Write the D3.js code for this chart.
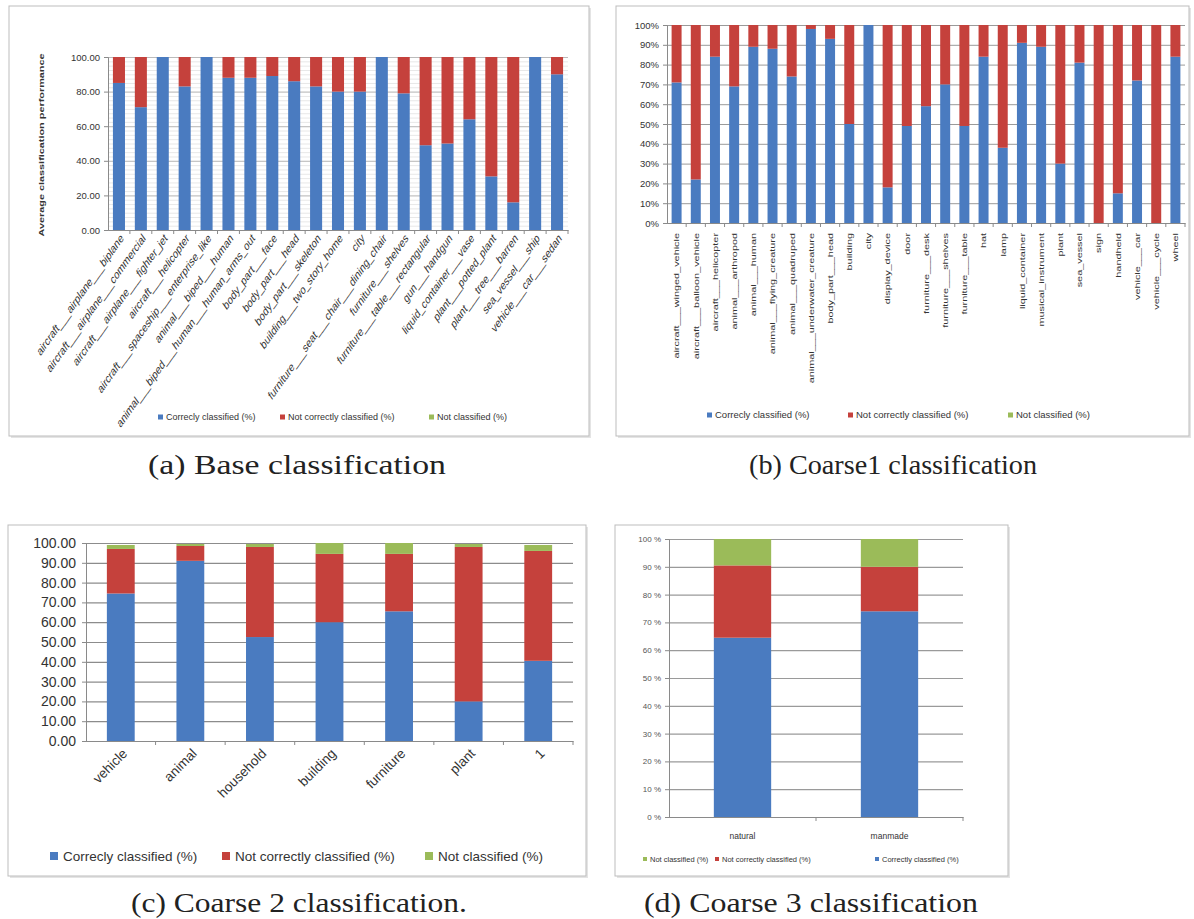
<!DOCTYPE html>
<html>
<head>
<meta charset="utf-8">
<script src="https://cdn.jsdelivr.net/npm/d3@7"></script>
<style>
  body { margin: 0; background: #fff; }
  svg text { font-family: "Liberation Sans", Arial, sans-serif; }
  .caption { font-family: "Liberation Serif", "DejaVu Serif", serif; }
</style>
</head>
<body>
<div id="fig"></div>
<script>
// (a) base classification
const baseLabels = [
  'aircraft___airplane___biplane', 'aircraft___airplane___commercial', 'aircraft___airplane___fighter_jet',
  'aircraft___helicopter', 'aircraft___spaceship___enterprise_like', 'animal___biped___human',
  'animal___biped___human___human_arms_out', 'body_part___face', 'body_part___head',
  'body_part___skeleton', 'building___two_story_home', 'city',
  'furniture___seat___chair___dining_chair', 'furniture___shelves', 'furniture___table___rectangular',
  'gun___handgun', 'liquid_container___vase', 'plant___potted_plant',
  'plant___tree___barren', 'sea_vessel___ship', 'vehicle___car___sedan'
];
const baseCorrect       = [85, 71, 100, 83, 100, 88, 88, 89, 86, 83, 80, 80, 100, 79, 49, 50, 64, 31, 16, 100, 90];
const baseNotCorrect    = [15, 29, 0, 17, 0, 12, 12, 11, 14, 17, 20, 20, 0, 21, 51, 50, 36, 69, 84, 0, 10];
const baseNotClassified = [0, 0, 0, 0, 0, 0, 0, 0, 0, 0, 0, 0, 0, 0, 0, 0, 0, 0, 0, 0, 0];
const baseTicks = [0, 20, 40, 60, 80, 100];

// (b) coarse 1 classification
const coarse1Labels = [
  'aircraft___winged_vehicle', 'aircraft___balloon_vehicle', 'aircraft___helicopter', 'animal___arthropod',
  'animal___human', 'animal___flying_creature', 'animal___quadruped', 'animal___underwater_creature',
  'body_part___head', 'building', 'city', 'display_device', 'door', 'furniture___desk',
  'furniture___shelves', 'furniture___table', 'hat', 'lamp', 'liquid_container', 'musical_instrument',
  'plant', 'sea_vessel', 'sign', 'handheld', 'vehicle___car', 'vehicle___cycle', 'wheel'
];
const coarse1Correct       = [71, 22, 84, 69, 89, 88, 74, 98, 93, 50, 100, 18, 49, 59, 70, 49, 84, 38, 91, 89, 30, 81, 0, 15, 72, 0, 84];
const coarse1NotCorrect    = [29, 78, 16, 31, 11, 12, 26, 2, 7, 50, 0, 82, 51, 41, 30, 51, 16, 62, 9, 11, 70, 19, 100, 85, 28, 100, 16];
const coarse1NotClassified = [0, 0, 0, 0, 0, 0, 0, 0, 0, 0, 0, 0, 0, 0, 0, 0, 0, 0, 0, 0, 0, 0, 0, 0, 0, 0, 0];
const coarse1Ticks = [0, 10, 20, 30, 40, 50, 60, 70, 80, 90, 100];

// (c) coarse 2 classification
const coarse2Labels = ['vehicle', 'animal', 'household', 'building', 'furniture', 'plant', '1'];
const coarse2Correct       = [74.5, 91, 52.5, 60, 65.5, 20, 40.5];
const coarse2NotCorrect    = [22.5, 7.5, 45.5, 34.5, 29, 78, 55.5];
const coarse2NotClassified = [2, 1, 1.5, 5.5, 5.5, 1.5, 3];
const coarse2Ticks = [0, 10, 20, 30, 40, 50, 60, 70, 80, 90, 100];

// (d) coarse 3 classification
const coarse3Labels = ['natural', 'manmade'];
const coarse3Correct       = [64.5, 74];
const coarse3NotCorrect    = [26, 16];
const coarse3NotClassified = [9.5, 10];
const coarse3Ticks = [0, 10, 20, 30, 40, 50, 60, 70, 80, 90, 100];

const seriesNames = ['Correcly classified (%)', 'Not correctly classified (%)', 'Not classified (%)'];
const seriesNamesD = ['Correctly classified (%)', 'Not correctly classified (%)', 'Not classified (%)'];
const colors = ['#4a7bc0', '#c5413c', '#9bbb59'];

const svg = d3.select('#fig').append('svg')
  .attr('width', 1194)
  .attr('height', 919);

function panel(cfg) {
  const g = svg.append('g');

  // frame with a soft shadow
  const [fx0, fy0, fx1, fy1] = cfg.frame;
  g.append('rect')
    .attr('x', fx0 + 2).attr('y', fy0 + 2)
    .attr('width', fx1 - fx0).attr('height', fy1 - fy0)
    .attr('fill', '#e4e4e4');
  g.append('rect')
    .attr('x', fx0).attr('y', fy0)
    .attr('width', fx1 - fx0).attr('height', fy1 - fy0)
    .attr('fill', '#fff').attr('stroke', '#bdbdbd');

  const x = d3.scaleBand()
    .domain(cfg.cats)
    .range(cfg.xr)
    .paddingInner(cfg.pad)
    .paddingOuter(cfg.pad / 2);
  const y = d3.scaleLinear().domain([0, 100]).range(cfg.yr);

  // gridlines
  cfg.grids.forEach(gr => {
    g.append('g')
      .attr('transform', `translate(${cfg.xr[0]},0)`)
      .call(d3.axisLeft(y).tickValues(gr.values).tickSize(-(cfg.xr[1] - cfg.xr[0])).tickFormat(''))
      .call(s => {
        s.select('.domain').remove();
        s.selectAll('line').attr('stroke', gr.color).attr('stroke-width', gr.width);
      });
  });

  // stacked bars
  const rows = cfg.cats.map((c, i) => ({ cat: c, s0: cfg.series[0][i], s1: cfg.series[1][i], s2: cfg.series[2][i] }));
  const stacked = d3.stack().keys(['s0', 's1', 's2'])(rows);
  g.append('g').selectAll('g')
    .data(stacked)
    .join('g')
      .attr('fill', (d, i) => colors[i])
    .selectAll('rect')
    .data(d => d)
    .join('rect')
      .attr('x', d => x(d.data.cat))
      .attr('y', d => y(d[1]))
      .attr('width', x.bandwidth())
      .attr('height', d => y(d[0]) - y(d[1]));

  // y axis
  const ya = g.append('g')
    .attr('transform', `translate(${cfg.xr[0]},0)`)
    .call(d3.axisLeft(y).tickValues(cfg.ticks).tickSize(4).tickPadding(cfg.tickPad).tickFormat(cfg.fmt));
  ya.attr('font-family', null).attr('font-size', cfg.tickFont);
  ya.select('.domain').attr('stroke', '#8a8a8a');
  ya.selectAll('line').attr('stroke', '#8a8a8a');
  ya.selectAll('text').attr('fill', cfg.tickColor || '#333');

  // x axis line and ticks between categories
  const xa = g.append('g')
    .attr('transform', `translate(0,${cfg.yr[0]})`)
    .call(d3.axisBottom(x).tickSize(0).tickFormat(''));
  xa.select('.domain').attr('stroke', '#8a8a8a');
  g.append('g').selectAll('line')
    .data(cfg.cats)
    .join('line')
      .attr('x1', d => x(d) + x.bandwidth() + x.step() * cfg.pad / 2)
      .attr('x2', d => x(d) + x.bandwidth() + x.step() * cfg.pad / 2)
      .attr('y1', cfg.yr[0])
      .attr('y2', cfg.yr[0] + 4)
      .attr('stroke', '#8a8a8a');

  // category labels
  g.append('g').selectAll('text')
    .data(cfg.cats)
    .join('text')
      .attr('transform', d => cfg.labelTransform(x(d) + x.bandwidth() / 2, cfg.yr[0]))
      .attr('text-anchor', cfg.labelAnchor)
      .attr('dy', cfg.labelDy)
      .attr('font-size', cfg.labelFont)
      .attr('fill', '#333')
      .text(d => d);

  // legend
  const lg = g.append('g');
  cfg.legend.order.forEach((si, k) => {
    const lx = cfg.legend.xs[k];
    const b = cfg.legend.box;
    lg.append('rect')
      .attr('x', lx).attr('y', cfg.legend.y - b / 2)
      .attr('width', b).attr('height', b)
      .attr('fill', colors[si]);
    lg.append('text')
      .attr('x', lx + b + cfg.legend.gap)
      .attr('y', cfg.legend.y)
      .attr('dy', '0.35em')
      .attr('font-size', cfg.legend.font)
      .attr('fill', '#333')
      .text(cfg.legend.names[si]);
  });

  return { g, x, y };
}

// (a)
const pa = panel({
  frame: [9, 6, 589, 436],
  cats: baseLabels,
  series: [baseCorrect, baseNotCorrect, baseNotClassified],
  xr: [108, 568], yr: [230, 57], pad: 0.45,
  grids: [
    { values: d3.range(0, 100.1, 2.5), color: '#d6d6d6', width: 0.6 },
    { values: baseTicks, color: '#b0b0b0', width: 0.8 }
  ],
  ticks: baseTicks, fmt: d3.format('.2f'), tickFont: 9.5, tickPad: 4,
  labelTransform: (cx, y0) => `translate(${cx + 3},${y0 + 6}) scale(1,1.4) rotate(-45)`,
  labelAnchor: 'end', labelDy: '0.35em', labelFont: 9,
  legend: { y: 417, xs: [158, 280, 429], order: [0, 1, 2], names: seriesNames, box: 5, gap: 3, font: 9 }
});
pa.g.append('text')
  .attr('transform', 'translate(44,145) scale(1,1.36) rotate(-90)')
  .attr('text-anchor', 'middle')
  .attr('font-size', 8)
  .attr('font-weight', 'bold')
  .attr('fill', '#333')
  .text('Average classification performance');

// (b)
panel({
  frame: [616, 6, 1189, 436],
  cats: coarse1Labels,
  series: [coarse1Correct, coarse1NotCorrect, coarse1NotClassified],
  xr: [667, 1185], yr: [223, 25], pad: 0.48,
  grids: [{ values: coarse1Ticks, color: '#9a9a9a', width: 1 }],
  ticks: coarse1Ticks, fmt: d => d + '%', tickFont: 9.5, tickPad: 4,
  labelTransform: (cx, y0) => `translate(${cx},${y0 + 10}) scale(1,1.36) rotate(-90)`,
  labelAnchor: 'end', labelDy: '0.35em', labelFont: 8,
  legend: { y: 415, xs: [707, 848, 1008], order: [0, 1, 2], names: seriesNames, box: 5, gap: 3, font: 9.5 }
});

// (c)
panel({
  frame: [8, 525, 586, 876],
  cats: coarse2Labels,
  series: [coarse2Correct, coarse2NotCorrect, coarse2NotClassified],
  xr: [86, 573], yr: [741, 543], pad: 0.6,
  grids: [{ values: coarse2Ticks, color: '#8c8c8c', width: 1.2 }],
  ticks: coarse2Ticks, fmt: d3.format('.2f'), tickFont: 14, tickPad: 6,
  labelTransform: (cx, y0) => `translate(${cx + 4},${y0 + 10}) rotate(-45)`,
  labelAnchor: 'end', labelDy: '0.35em', labelFont: 13.5,
  legend: { y: 856, xs: [50, 222, 425], order: [0, 1, 2], names: seriesNames, box: 8, gap: 5, font: 13.5 }
});

// (d)
panel({
  frame: [615, 525, 1008, 876],
  cats: coarse3Labels,
  series: [coarse3Correct, coarse3NotCorrect, coarse3NotClassified],
  xr: [669, 963], yr: [817, 539], pad: 0.61,
  grids: [{ values: coarse3Ticks, color: '#9a9a9a', width: 1.2 }],
  ticks: coarse3Ticks, fmt: d => d + ' %', tickFont: 8, tickPad: 4, tickColor: '#555',
  labelTransform: (cx, y0) => `translate(${cx},${y0 + 22})`,
  labelAnchor: 'middle', labelDy: '0', labelFont: 8.5,
  legend: { y: 859, xs: [643, 715, 875], order: [2, 1, 0], names: seriesNamesD, box: 4, gap: 3, font: 7.5 }
});

// captions
const captions = [
  { text: '(a) Base classification', x: 297, y: 474, w: 298 },
  { text: '(b) Coarse1 classification', x: 893, y: 474, w: 288 },
  { text: '(c) Coarse 2 classification.', x: 299, y: 912, w: 336 },
  { text: '(d) Coarse 3 classification', x: 811, y: 912, w: 334 }
];
svg.append('g').selectAll('text')
  .data(captions)
  .join('text')
    .attr('class', 'caption')
    .attr('x', d => d.x)
    .attr('y', d => d.y)
    .attr('text-anchor', 'middle')
    .attr('font-size', 28)
    .attr('textLength', d => d.w)
    .attr('lengthAdjust', 'spacingAndGlyphs')
    .attr('fill', '#222')
    .text(d => d.text);
</script>
</body>
</html>
